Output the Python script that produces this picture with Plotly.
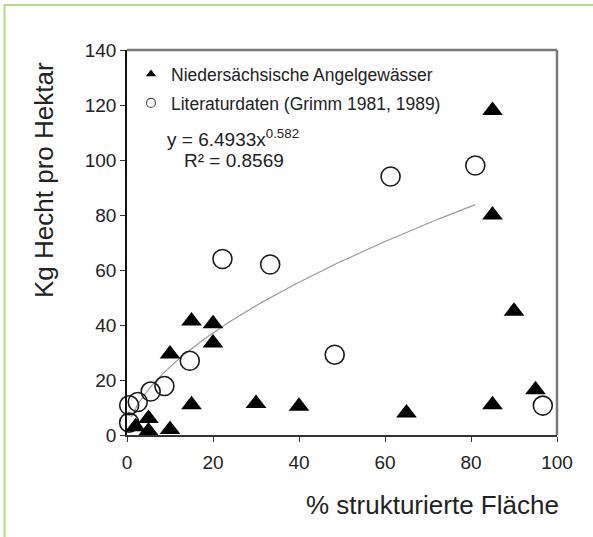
import numpy as np
import plotly.graph_objects as go

# --- data ---
tri_x = [85, 85, 90, 95, 85, 65, 40, 30, 15, 20, 20, 10, 15, 10, 2, 5, 5]
tri_y = [118, 80, 45, 16.5, 11, 8, 10.5, 11.5, 41.5, 40.5, 33.5, 29.5, 11, 2, 3, 6, 1.5]

circ_x = [0.5, 0.5, 2.5, 5.5, 8.7, 14.6, 22.2, 33.3, 48.3, 61.3, 81, 96.7]
circ_y = [4.5, 10.8, 12, 15.8, 17.8, 27, 64, 62, 29.2, 94, 98, 10.7]

fit_a = 6.4933
fit_b = 0.582
fit_range = [1, 81]

x_ticks = [0, 20, 40, 60, 80, 100]
y_ticks = [0, 20, 40, 60, 80, 100, 120, 140]

series1_name = "Niedersächsische Angelgewässer"
series2_name = "Literaturdaten (Grimm 1981, 1989)"

FONT = "Arial, Liberation Sans, sans-serif"
W, H = 593, 537
L, R, T, B = 127, 36, 50, 102
pw, ph = W - L - R, H - T - B

def px(xp):
    return (xp - L) / pw

def py(yp):
    return (H - B - yp) / ph

fit_x = np.linspace(fit_range[0], fit_range[1], 120)
fit_y = fit_a * fit_x ** fit_b

fig = go.Figure()
fig.add_trace(go.Scatter(x=fit_x, y=fit_y, mode="lines",
                         line=dict(color="#9a9a9a", width=1.2),
                         showlegend=False, hoverinfo="skip"))
fig.add_trace(go.Scatter(x=circ_x, y=circ_y, mode="markers", name=series2_name,
                         marker=dict(symbol="circle-open", size=19, color="#1a1a1a",
                                     line=dict(color="#1a1a1a", width=1.6)),
                         showlegend=False, cliponaxis=False))
fig.add_trace(go.Scatter(x=tri_x, y=tri_y, mode="markers", name=series1_name,
                         marker=dict(symbol="triangle-up", size=18, color="#000000"),
                         showlegend=False, cliponaxis=False))
# legend entries
fig.add_trace(go.Scatter(x=[None], y=[None], mode="markers", name=series1_name,
                         marker=dict(symbol="triangle-up", size=9, color="#000"),
                         legend="legend"))
fig.add_trace(go.Scatter(x=[None], y=[None], mode="markers", name=series2_name,
                         marker=dict(symbol="circle-open", size=9, color="#555",
                                     line=dict(color="#555", width=1.2)),
                         legend="legend2"))

leg_common = dict(bgcolor="rgba(0,0,0,0)", borderwidth=0,
                  font=dict(family=FONT, size=17.5, color="#222"),
                  xanchor="left", yanchor="middle", itemwidth=30)
fig.update_layout(
    width=W, height=H,
    margin=dict(l=L, r=R, t=T, b=B),
    paper_bgcolor="white", plot_bgcolor="white",
    legend=dict(x=px(131), y=py(74), **leg_common),
    legend2=dict(x=px(131), y=py(103), **leg_common),
    xaxis=dict(range=[0, 100], tickvals=x_ticks, ticks="outside", ticklen=5,
               tickcolor="#333", showgrid=False, zeroline=False,
               showline=True, linecolor="#333", linewidth=1.5,
               ticklabelstandoff=4,
               tickfont=dict(family=FONT, size=19, color="#222")),
    yaxis=dict(range=[0, 140], tickvals=y_ticks, ticks="outside", ticklen=5,
               tickcolor="#333", showgrid=False, zeroline=False,
               showline=True, linecolor="#111", linewidth=1.5,
               tickfont=dict(family=FONT, size=19, color="#222")),
    shapes=[
        dict(type="line", xref="paper", yref="paper", x0=0, x1=1, y0=1, y1=1,
             line=dict(color="#7a7a7a", width=2.5)),
        dict(type="line", xref="paper", yref="paper", x0=1, x1=1, y0=0, y1=1,
             line=dict(color="#7a7a7a", width=2.5)),
        dict(type="rect", xref="paper", yref="paper", x0=px(4.5), x1=px(640),
             y0=py(5), y1=py(580), line=dict(color="#b2dc86", width=2),
             fillcolor="rgba(0,0,0,0)", layer="above"),
    ],
    annotations=[
        dict(text="Kg Hecht pro Hektar", xref="paper", yref="paper",
             x=px(44), y=py(180), textangle=-90, showarrow=False,
             font=dict(family=FONT, size=26, color="#222"),
             xanchor="center", yanchor="middle"),
        dict(text="% strukturierte Fläche", xref="paper", yref="paper",
             x=px(561), y=py(505), showarrow=False,
             font=dict(family=FONT, size=26, color="#222"),
             xanchor="right", yanchor="middle"),
        dict(text="y = 6.4933x<sup>0.582</sup>", xref="paper", yref="paper",
             x=px(165), y=py(138), showarrow=False,
             font=dict(family=FONT, size=19, color="#222"),
             xanchor="left", yanchor="middle"),
        dict(text="R² = 0.8569", xref="paper", yref="paper",
             x=px(182), y=py(160), showarrow=False,
             font=dict(family=FONT, size=19, color="#222"),
             xanchor="left", yanchor="middle"),
    ],
)

fig.write_html("out.html", config={"displayModeBar": False},
               post_script="document.body.style.margin='0';")
